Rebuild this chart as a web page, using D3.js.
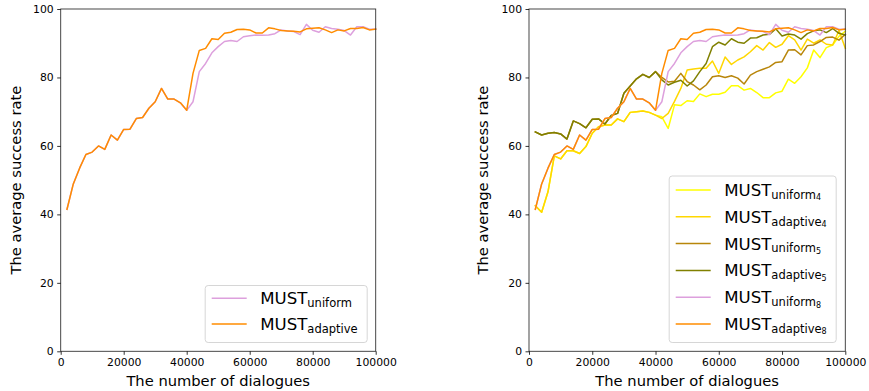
<!DOCTYPE html>
<html><head><meta charset="utf-8">
<script src="https://cdn.jsdelivr.net/npm/d3@7"></script>
<style>body{margin:0;background:#fff}svg{display:block}text{font-family:"DejaVu Sans",sans-serif}</style>
</head><body><svg id="c" width="869" height="391"></svg>
<script>
const dialogues = [2000,4000,6000,8000,10000,12000,14000,16000,18000,20000,22000,24000,26000,28000,30000,32000,34000,36000,38000,40000,42000,44000,46000,48000,50000,52000,54000,56000,58000,60000,62000,64000,66000,68000,70000,72000,74000,76000,78000,80000,82000,84000,86000,88000,90000,92000,94000,96000,98000,100000];
const uniform8 = [41.5,48.9,53.5,57.5,58.2,60.0,59.0,63.2,61.7,64.8,64.9,68.0,68.3,71.0,72.9,76.8,73.7,73.7,72.6,70.4,72.9,81.7,84.1,87.2,89.0,90.5,90.8,90.5,91.9,92.2,92.4,92.3,92.4,92.8,93.9,93.6,93.4,92.5,95.5,93.8,93.2,94.8,94.3,94.1,93.7,92.4,94.8,94.8,94.1,94.1];
const adaptive8 = [41.5,48.9,53.5,57.5,58.2,60.0,59.0,63.2,61.7,64.8,64.9,68.0,68.3,71.0,72.9,76.8,73.7,73.7,72.6,70.4,81.2,87.9,88.5,91.3,91.1,92.9,93.2,94.0,94.1,93.9,93.0,93.0,94.5,94.2,93.7,93.6,93.5,93.3,94.2,94.4,94.5,93.9,93.1,93.9,93.6,94.3,94.3,94.6,93.9,94.1];
const uniform4 = [42.5,40.6,46.6,57.1,56.2,58.6,58.6,57.8,59.8,63.7,65.6,66.1,66.1,67.9,67.1,69.8,70.0,70.2,69.8,69.0,68.5,65.1,72.0,71.8,73.2,73.0,75.2,74.4,75.1,75.1,75.7,77.6,77.6,76.3,76.8,75.6,74.1,74.1,75.5,76.0,79.5,78.3,80.2,82.8,88.0,85.8,88.7,89.5,92.0,93.5];
const adaptive4 = [42.5,40.6,46.6,57.1,56.2,58.6,58.6,57.8,59.8,63.7,65.6,66.1,66.1,67.9,67.1,69.8,70.0,70.2,69.8,69.0,68.0,69.5,73.0,76.8,82.2,82.5,82.7,82.7,84.8,81.2,86.0,83.8,85.1,86.0,87.5,89.3,88.0,90.2,88.8,89.7,92.2,91.0,88.0,91.2,90.0,91.0,89.7,89.5,93.7,88.5];
const uniform5 = [64.1,63.2,63.7,63.9,63.5,62.0,67.3,66.5,65.3,67.8,67.9,66.4,68.9,69.5,75.4,77.5,79.6,80.9,80.0,81.7,80.0,78.7,78.9,81.2,78.8,77.8,76.4,77.8,80.2,80.5,80.0,80.5,79.8,78.1,80.7,81.7,82.4,83.1,84.4,84.6,88.0,88.1,86.6,89.3,89.5,90.5,91.7,91.8,90.9,92.6];
const adaptive5 = [64.1,63.2,63.7,63.9,63.5,62.0,67.3,66.5,65.3,67.8,67.9,66.4,68.9,69.5,75.4,77.5,79.6,80.9,80.0,81.7,79.3,77.8,78.6,79.2,77.5,79.0,81.7,84.1,89.0,90.3,89.5,91.3,90.3,90.0,91.5,91.6,92.4,92.6,94.2,92.1,92.7,92.4,91.2,92.8,93.6,93.9,93.1,94.3,92.9,92.4];
const xTicks = [0,20000,40000,60000,80000,100000];
const yTicks = [0,20,40,60,80,100];

const leftSeries = [
  {name:"MUST", sub:"uniform", sub2:"", values:uniform8, color:"#dda0dd"},
  {name:"MUST", sub:"adaptive", sub2:"", values:adaptive8, color:"#ff8c00"}
];
const rightSeries = [
  {name:"MUST", sub:"uniform", sub2:"4", values:uniform4, color:"#ffff00"},
  {name:"MUST", sub:"adaptive", sub2:"4", values:adaptive4, color:"#ffd700"},
  {name:"MUST", sub:"uniform", sub2:"5", values:uniform5, color:"#b8860b"},
  {name:"MUST", sub:"adaptive", sub2:"5", values:adaptive5, color:"#808000"},
  {name:"MUST", sub:"uniform", sub2:"8", values:uniform8, color:"#dda0dd"},
  {name:"MUST", sub:"adaptive", sub2:"8", values:adaptive8, color:"#ff8c00"}
];

const svg = d3.select("#c");

function panel(x0, x1, series, legendBox, rowGap, labelOffset) {
  const top = 9, bottom = 351.3;
  const x = d3.scaleLinear().domain([0,100000]).range([x0,x1]);
  const y = d3.scaleLinear().domain([0,100]).range([bottom,top]);
  const g = svg.append("g");

  const line = d3.line().x((d,i)=>x(dialogues[i])).y(d=>y(d));
  series.forEach(s=>{
    g.append("path").datum(s.values).attr("d",line)
      .attr("fill","none").attr("stroke",s.color).attr("stroke-width",1.5)
      .attr("stroke-linejoin","round").attr("stroke-linecap","square");
  });

  g.append("rect").attr("x",x0).attr("y",top).attr("width",x1-x0).attr("height",bottom-top)
    .attr("fill","none").attr("stroke","#333").attr("stroke-width",0.9);

  const xa = g.append("g").attr("transform",`translate(0,${bottom})`)
    .call(d3.axisBottom(x).tickValues(xTicks).tickFormat(d3.format("d")).tickSize(3.5).tickPadding(3.5));
  const ya = g.append("g").attr("transform",`translate(${x0},0)`)
    .call(d3.axisLeft(y).tickValues(yTicks).tickSize(3.5).tickPadding(3.5));
  [xa,ya].forEach(a=>{
    a.select(".domain").remove();
    a.selectAll("text").attr("font-size",10.8).attr("fill","#000").style("font-family","DejaVu Sans");
    a.selectAll("line").attr("stroke","#000").attr("stroke-width",0.8);
  });

  g.append("text").attr("x",(x0+x1)/2).attr("y",386).attr("text-anchor","middle")
    .attr("font-size",14.7).text("The number of dialogues");
  g.append("text").attr("transform",`translate(${x0-labelOffset},${(top+bottom)/2}) rotate(-90)`)
    .attr("text-anchor","middle").attr("font-size",14.7).text("The average success rate");

  const [lx,ly,lw,lh,firstRow] = legendBox;
  g.append("rect").attr("x",lx).attr("y",ly).attr("width",lw).attr("height",lh)
    .attr("rx",3).attr("fill","#fff").attr("fill-opacity",0.8).attr("stroke","#ccc").attr("stroke-width",0.8);
  series.forEach((s,i)=>{
    const ry = firstRow + i*rowGap;
    g.append("line").attr("x1",lx+6.5).attr("x2",lx+41.5).attr("y1",ry).attr("y2",ry)
      .attr("stroke",s.color).attr("stroke-width",1.5);
    const t = g.append("text").attr("x",lx+55).attr("y",ry+6).attr("font-size",16.6);
    t.append("tspan").text(s.name);
    t.append("tspan").attr("font-size",11.5).attr("dy",2.8).text(s.sub);
    if (s.sub2) t.append("tspan").attr("font-size",8).attr("dy",1.6).text(s.sub2);
  });
}

panel(60.7, 375.7, leftSeries, [205.2,285.5,162,57,298.3], 25.7, 40);
panel(529, 845.3, rightSeries, [669.2,176,167,166.5,190], 26.8, 41);
</script></body></html>
